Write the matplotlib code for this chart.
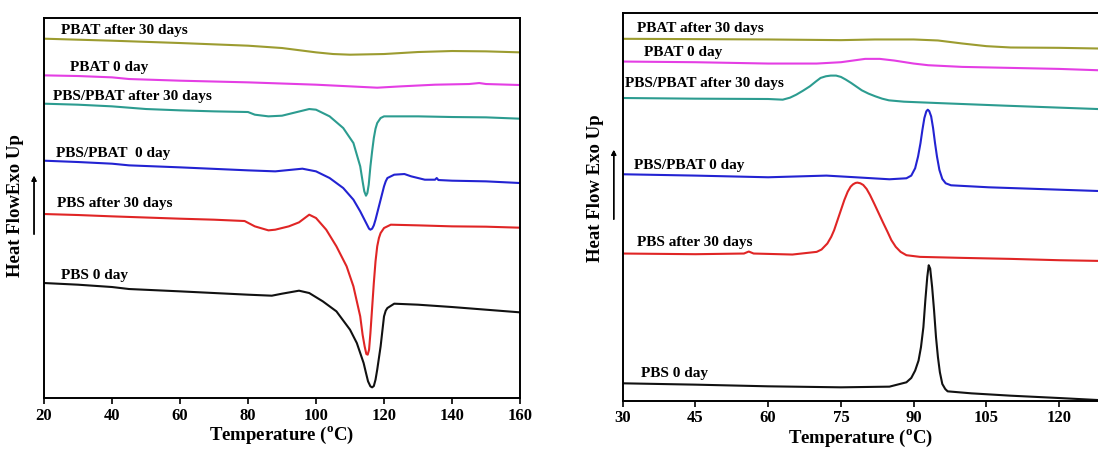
import matplotlib.pyplot as plt

plt.rcParams['font.family'] = ['Liberation Serif', 'DejaVu Serif']
plt.rcParams['font.weight'] = 'bold'
plt.rcParams['mathtext.fontset'] = 'custom'
plt.rcParams['mathtext.rm'] = 'Liberation Serif'
plt.rcParams['mathtext.bf'] = 'Liberation Serif:bold'

# ---- left panel: heating scans (arbitrary offset units) ----
pbat30_T = [20, 30, 40, 60, 80, 90, 100, 105, 110, 120, 130, 140, 150, 160]
pbat30_v = [107.8, 107.5, 107.2, 106.5, 105.7, 105.0, 103.7, 103.2, 103.0, 103.2, 103.8, 104.1, 104.0, 103.7]

pbat0_T = [20, 30, 40, 45, 60, 80, 100, 110, 118, 125, 135, 145, 148, 150, 160]
pbat0_v = [96.8, 96.6, 96.2, 95.7, 95.2, 94.7, 94.0, 93.5, 93.1, 93.5, 94.0, 94.2, 94.5, 94.2, 93.9]

blend30_T = [20, 30, 40, 50, 60, 70, 80, 82, 86, 90, 94, 98, 100, 104, 108, 111, 113, 113.7,
             114.2, 114.7, 115.1, 115.5, 116, 116.5, 117, 117.5, 118, 119, 120, 130, 140, 150, 160]
blend30_v = [88.3, 88.0, 87.5, 86.7, 86.3, 86.0, 85.8, 85.0, 84.5, 84.7, 85.7, 86.7, 86.5, 84.5,
             81.0, 76.5, 69.5, 65.0, 62.0, 60.7, 61.5, 64.0, 69.5, 74.0, 78.0, 80.8, 82.5, 84.0,
             84.5, 84.5, 84.3, 84.2, 83.8]

blend0_T = [20, 30, 40, 45, 60, 80, 88, 90, 96, 100, 104, 108, 111, 113, 115, 115.6, 116, 116.5,
            117, 117.5, 118, 119, 120, 120.5, 121, 123, 126, 128, 132, 135, 135.5, 136, 140, 150, 160]
blend0_v = [71.2, 70.8, 70.3, 69.8, 69.2, 68.3, 68.0, 68.2, 68.8, 68.0, 66.0, 63.0, 59.5, 56.0,
            52.0, 50.8, 50.5, 50.8, 51.8, 53.5, 55.5, 59.5, 63.5, 65.0, 66.0, 67.0, 67.2, 66.5,
            65.5, 65.5, 66.0, 65.4, 65.2, 65.0, 64.5]

pbs30_T = [20, 30, 40, 60, 70, 79, 82, 86, 88, 92, 95, 98, 100, 103, 106, 109, 111, 113, 113.7,
           114.3, 114.8, 115.2, 115.6, 116, 116.5, 117, 117.5, 118, 118.5, 119, 120, 122, 130, 140,
           150, 160]
pbs30_v = [55.2, 54.9, 54.5, 53.8, 53.5, 53.1, 51.5, 50.3, 50.5, 51.5, 52.7, 55.0, 54.0, 50.5,
           45.5, 39.5, 33.5, 24.5, 19.0, 15.5, 13.2, 13.0, 14.5, 19.5, 27.0, 34.5, 41.0, 45.5,
           48.0, 49.5, 51.0, 52.0, 51.8, 51.5, 51.4, 51.1]

pbs0_T = [20, 30, 40, 45, 60, 80, 87, 90, 95, 98, 102, 106, 110, 112, 114, 114.7, 115.3, 116,
          116.5, 117, 117.5, 118, 118.5, 119, 119.5, 120, 120.5, 121, 123, 130, 140, 150, 160]
pbs0_v = [34.5, 34.0, 33.3, 32.7, 32.0, 31.0, 30.7, 31.3, 32.2, 31.5, 29.0, 26.0, 20.5, 16.5,
          10.5, 7.5, 5.0, 3.5, 3.2, 3.6, 5.5, 8.5, 12.0, 15.5, 20.0, 24.5, 26.2, 27.0, 28.3,
          28.0, 27.3, 26.5, 25.7]

# ---- right panel: cooling scans ----
c_pbat30_T = [30, 45, 60, 75, 82, 90, 95, 100, 105, 110, 120, 128]
c_pbat30_v = [108.2, 108.1, 108.0, 107.8, 108.0, 108.0, 107.7, 106.8, 106.0, 105.6, 105.5, 105.3]

c_pbat0_T = [30, 45, 60, 70, 75, 78, 80, 83, 86, 90, 93, 100, 110, 120, 128]
c_pbat0_v = [101.4, 101.2, 100.8, 100.8, 101.2, 101.8, 102.2, 102.2, 101.7, 100.8, 100.3, 99.8,
             99.5, 99.2, 98.8]

c_blend30_T = [30, 45, 60, 63, 64.5, 65.8, 67.2, 68.6, 69.8, 70.8, 71.9, 72.9, 74, 75, 76,
               77.1, 78.2, 79.3, 80.7, 82.1, 83.5, 84.9, 88, 94.8, 109, 128]
c_blend30_v = [90.5, 90.3, 90.2, 90.0, 90.6, 91.5, 92.7, 94.0, 95.4, 96.5, 97.0, 97.2, 97.2, 96.8,
               96.0, 95.0, 93.9, 92.8, 91.8, 91.0, 90.3, 89.8, 89.4, 89.0, 88.2, 87.2]

c_blend0_T = [30, 45, 60, 72, 78, 85, 88.5, 89.5, 90.3, 90.9, 91.4, 91.8, 92.2, 92.6, 92.9,
              93.2, 93.6, 94.0, 94.4, 94.8, 95.3, 95.9, 96.6, 97.7, 105.5, 128]
c_blend0_v = [67.7, 67.3, 66.8, 67.3, 66.8, 66.2, 66.5, 67.3, 69.5, 73.0, 77.0, 81.0, 84.5, 86.5,
              87.0, 86.6, 85.0, 81.5, 77.0, 73.0, 69.0, 66.3, 65.0, 64.4, 63.8, 62.7]

c_pbs30_T = [30, 45, 55, 56, 57, 65, 70, 71, 72.2, 73, 73.6, 74.3, 75, 75.7, 76.4, 77, 77.5, 78,
             78.4, 79, 79.6, 80.3, 81, 81.9, 82.8, 83.7, 84.6, 85.4, 86.3, 87.3, 88.5, 91.3, 100,
             110, 120, 128]
c_pbs30_v = [44.0, 43.8, 44.0, 44.6, 44.0, 43.7, 44.5, 45.2, 47.0, 49.0, 51.0, 54.0, 57.0, 60.0,
             62.5, 64.0, 64.7, 65.1, 65.2, 65.0, 64.5, 63.3, 61.5, 58.8, 56.0, 53.2, 50.5, 48.0,
             46.0, 44.5, 43.5, 43.0, 42.7, 42.4, 42.0, 41.8]

c_pbs0_T = [30, 45, 60, 75, 85, 88.5, 89.5, 90.3, 91, 91.5, 92, 92.4, 92.8, 93.1, 93.4, 93.8,
            94.2, 94.6, 95, 95.4, 95.9, 96.5, 97, 101.9, 110, 120, 128]
c_pbs0_v = [5.2, 4.8, 4.3, 4.0, 4.2, 5.5, 6.8, 9.0, 12.0, 16.0, 22.0, 30.0, 37.0, 40.5, 39.5,
            34.0, 27.0, 19.0, 13.0, 8.5, 5.0, 3.5, 2.8, 2.2, 1.5, 0.8, 0.2]

names = ["PBAT after 30 days", "PBAT 0 day", "PBS/PBAT after 30 days",
         "PBS/PBAT  0 day", "PBS after 30 days", "PBS 0 day"]
names_r = ["PBAT after 30 days", "PBAT 0 day", "PBS/PBAT after 30 days",
           "PBS/PBAT 0 day", "PBS after 30 days", "PBS 0 day"]
colors = ["#9c9c30", "#e43ee4", "#2c9c90", "#2323d2", "#e02525", "#111111"]

left_T = [pbat30_T, pbat0_T, blend30_T, blend0_T, pbs30_T, pbs0_T]
left_v = [pbat30_v, pbat0_v, blend30_v, blend0_v, pbs30_v, pbs0_v]
left_lab_T = [24.9, 27.6, 22.5, 23.6, 23.9, 25.1]
left_lab_v = [110.3, 99.3, 90.5, 73.5, 58.3, 36.9]

right_T = [c_pbat30_T, c_pbat0_T, c_blend30_T, c_blend0_T, c_pbs30_T, c_pbs0_T]
right_v = [c_pbat30_v, c_pbat0_v, c_blend30_v, c_blend0_v, c_pbs30_v, c_pbs0_v]
right_lab_T = [33.0, 34.3, 30.5, 32.3, 33.0, 33.8]
right_lab_v = [111.2, 104.0, 94.7, 70.3, 47.3, 8.2]

fig = plt.figure(figsize=(10.98, 4.54), dpi=100)
ax1 = fig.add_axes([0.0401, 0.1233, 0.4335, 0.837])
ax2 = fig.add_axes([0.5671, 0.1174, 0.4329, 0.8546])

for T, v, c in zip(left_T, left_v, colors):
    ax1.plot(T, v, color=c, lw=1.5)
for t, v, s in zip(left_lab_T, left_lab_v, names):
    ax1.text(t, v, s, fontsize=11, fontweight='bold', va='center', ha='left')

for T, v, c in zip(right_T, right_v, colors):
    ax2.plot(T, v, color=c, lw=1.5)
for t, v, s in zip(right_lab_T, right_lab_v, names_r):
    ax2.text(t, v, s, fontsize=11, fontweight='bold', va='center', ha='left')

ax1.set_xlim(20, 160)
ax1.set_ylim(0, 114)
ax1.set_xticks(range(20, 161, 20))
ax2.set_xlim(30, 128)
ax2.set_ylim(0, 116)
ax2.set_xticks(range(30, 121, 15))
ax2.spines['right'].set_visible(False)

for ax in (ax1, ax2):
    ax.set_yticks([])
    ax.tick_params(axis='x', direction='out', length=4, width=1.2, labelsize=12, pad=3)
    for lab in ax.get_xticklabels():
        lab.set_fontweight('bold')
    for sp in ax.spines.values():
        sp.set_linewidth(1.4)
    ax.set_xlabel(r'Temperature ($^{\mathbf{o}}$C)', fontsize=13.5, fontweight='bold', labelpad=1)

fig.text(0.0137, 0.548, "Heat FlowExo Up", rotation=90, fontsize=13.5, fontweight='bold',
         ha='center', va='center')
fig.text(0.542, 0.586, "Heat Flow Exo Up", rotation=90, fontsize=13.5, fontweight='bold',
         ha='center', va='center')
fig.add_artist(plt.annotate('', xy=(0.031, 0.619), xytext=(0.031, 0.478), xycoords='figure fraction',
                            arrowprops=dict(arrowstyle='-|>', color='black', lw=1.0, mutation_scale=7)))
fig.add_artist(plt.annotate('', xy=(0.559, 0.676), xytext=(0.559, 0.511), xycoords='figure fraction',
                            arrowprops=dict(arrowstyle='-|>', color='black', lw=1.0, mutation_scale=7)))

fig.savefig("out.png", dpi=100)
